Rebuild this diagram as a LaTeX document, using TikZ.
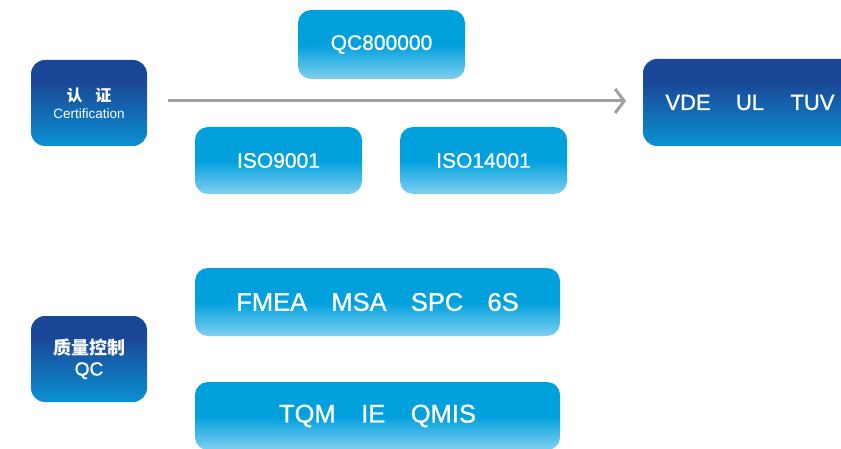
\documentclass[tikz,border=0pt]{standalone}
\usepackage{fontspec}
\setmainfont{Liberation Sans}
\newfontfamily\boxfont[FakeBold=1]{Liberation Sans}
\newfontfamily\cjkfont{Noto Sans CJK SC}
\usetikzlibrary{arrows.meta}
\definecolor{arrowgray}{RGB}{160,160,160}
\definecolor{lbtop}{RGB}{0,160,221}
\definecolor{lbbot}{RGB}{128,208,240}
\definecolor{dbtop}{RGB}{26,72,152}
\definecolor{dbbot}{RGB}{10,145,210}
\pgfdeclareverticalshading{lightbox}{100bp}{color(0bp)=(lbbot); color(25bp)=(lbbot); color(50bp)=(lbtop); color(75bp)=(lbtop); color(100bp)=(lbtop)}
\pgfdeclareverticalshading{darkbox}{100bp}{color(0bp)=(dbbot); color(25bp)=(dbbot); color(62bp)=(dbtop); color(75bp)=(dbtop); color(100bp)=(dbtop)}
\tikzset{
  lbox/.style={shading=lightbox, rounded corners=13pt, text=white, align=center, inner sep=0pt},
  dbox/.style={shading=darkbox, rounded corners=14pt, text=white, align=center, inner sep=0pt},
  conn/.style={draw=arrowgray, line width=3pt, -{Straight Barb[length=9pt,width=24pt,line width=3pt]}}
}
\begin{document}
\begin{tikzpicture}[x=1pt,y=1pt]
\useasboundingbox (0,0) rectangle (841,448);
\clip (0,0) rectangle (841,448);
\node[dbox, minimum width=116pt, minimum height=86pt, font=\fontsize{13.5}{17}\selectfont] (cert) at (89,345)
  {{\cjkfont\bfseries\fontsize{16}{16}\selectfont 认\hspace{0.8em}证}\\{\fontsize{13.5}{16}\selectfont Certification}};
\node[dbox, minimum width=214pt, minimum height=87pt] (vde) at (750,345.5)
  {\boxfont\fontsize{22}{26}\selectfont VDE\hspace{1.15em}UL\hspace{1.2em}TUV};
\node[lbox, minimum width=167pt, minimum height=69pt] (qc8) at (381.5,403.5)
  {\boxfont\fontsize{21}{24}\selectfont QC800000};
\node[lbox, minimum width=167pt, minimum height=67pt] (iso9) at (278.5,287.5)
  {\boxfont\fontsize{21}{24}\selectfont ISO9001};
\node[lbox, minimum width=167pt, minimum height=67pt] (iso14) at (483.5,287.5)
  {\boxfont\fontsize{21}{24}\selectfont ISO14001};
\node[lbox, minimum width=365pt, minimum height=68pt] (fmea) at (377.5,146)
  {\boxfont\fontsize{25.5}{30}\selectfont FMEA\hspace{0.95em}MSA\hspace{0.95em}SPC\hspace{0.95em}6S};
\node[dbox, minimum width=116pt, minimum height=86pt, font=\fontsize{19}{21}\selectfont] (qcbox) at (89,89)
  {{\cjkfont\bfseries\fontsize{18}{18}\selectfont 质量控制}\\{\boxfont\fontsize{19}{21}\selectfont QC}};
\node[lbox, minimum width=365pt, minimum height=68pt] (tqm) at (377.5,32)
  {\boxfont\fontsize{25.5}{30}\selectfont TQM\hspace{1em}IE\hspace{1em}QMIS};
\coordinate (a1) at (168,347);
\coordinate (a2) at (626,347);
\draw[conn] (a1) -- (a2);
\end{tikzpicture}
\end{document}
